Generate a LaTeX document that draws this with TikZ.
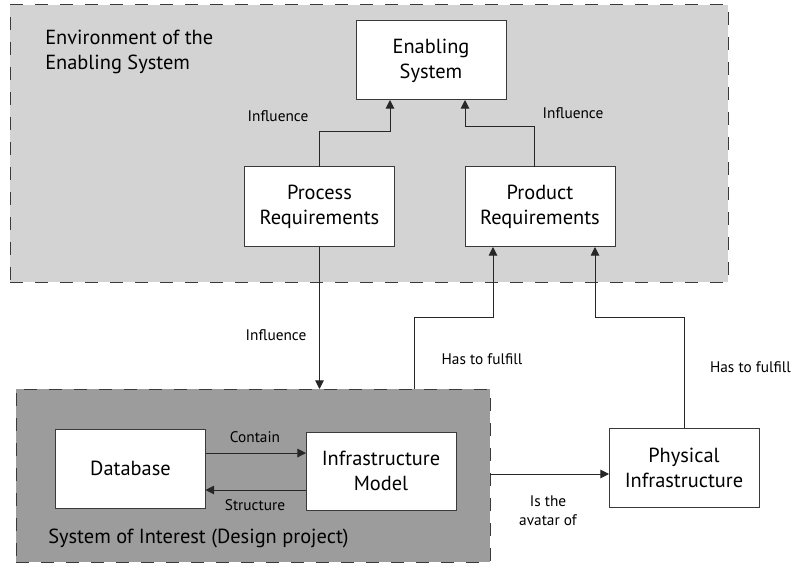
\documentclass[tikz,border=0pt]{standalone}
\usepackage{fontspec}
\setmainfont{PT Sans}
\usetikzlibrary{arrows.meta}
\definecolor{envgray}{HTML}{D3D3D3}
\definecolor{soigray}{HTML}{9C9C9C}
\definecolor{edgegray}{HTML}{3A3A3A}
\tikzset{
  container/.style={draw=edgegray, line width=0.75pt, dash pattern=on 9.75pt off 9pt, inner sep=0pt, outer sep=0pt},
  box/.style={draw=edgegray, fill=white, line width=0.75pt, inner sep=0pt, outer sep=0pt, minimum width=112.5pt, minimum height=59.25pt, align=center, font=\fontsize{15.3}{18.75}\selectfont},
  arr/.style={draw=black!85, line width=0.75pt, -{Triangle[length=6.5pt,width=6.5pt]}},
  lbl/.style={inner sep=0pt, font=\fontsize{11.5}{14.25}\selectfont, align=center},
  big/.style={inner sep=0pt, font=\fontsize{15.3}{18.75}\selectfont, align=left}
}
\begin{document}
\begin{tikzpicture}[x=0.75pt, y=-0.75pt]
\useasboundingbox (0,0) rectangle (793,563);
% containers
\node[container, fill=envgray, minimum width=538.5pt, minimum height=207.75pt] (env) at (369,143.5) {};
\node[container, fill=soigray, minimum width=355.5pt, minimum height=129.75pt] (soi) at (253,475.5) {};
\node[big, anchor=north west] (envlbl) at (45,30) {Environment of the\\Enabling System};
\node[big, anchor=west] (soilbl) at (48,538) {System of Interest (Design project)};
% boxes
\node[box] (ena) at (431,60.5) {Enabling\\System};
\node[box, minimum height=60pt] (proc) at (319.5,207) {Process\\Requirements};
\node[box, minimum height=60pt] (prod) at (540,207) {Product\\Requirements};
\node[box] (db) at (130.5,468.5) {Database};
\node[box, minimum height=58.5pt] (im) at (381,471) {Infrastructure\\Model};
\node[box] (phys) at (684,467.5) {Physical\\Infrastructure};
% connectors
\draw[arr] (proc.north) -- ++(0,-35) -| ([xshift=-30.75pt]ena.south);
\draw[arr] ([xshift=-4.5pt]prod.north) -- ++(0,-40) -| ([xshift=25.5pt]ena.south);
\draw[arr] (proc.south) -- (proc.south |- soi.north);
\draw[arr] ([xshift=120.75pt]soi.north) -- ++(0,-72) -| ([xshift=-35.25pt]prod.south);
\draw[arr] (phys.north) -- ++(0,-111) -| ([xshift=41.25pt]prod.south);
\coordinate (c1) at ([yshift=11.6pt]db.east);
\draw[arr] (c1) -- (c1 -| im.west);
\coordinate (c2) at ([yshift=-14.25pt]im.west);
\draw[arr] (c2) -- (c2 -| db.east);
\coordinate (c3) at ([yshift=-4.875pt]phys.west);
\draw[arr] (c3 -| soi.east) -- (c3);
% labels
\node[lbl] (l1) at (278,116) {Influence};
\node[lbl] (l2) at (573,113) {Influence};
\node[lbl] (l3) at (276,335) {Influence};
\node[lbl] (l4) at (482,359) {Has to fulfill};
\node[lbl, anchor=east] (l5) at (791,367) {Has to fulfill};
\node[lbl] (l6) at (255,437) {Contain};
\node[lbl] (l7) at (255,505) {Structure};
\node[lbl] (l8) at (548,510.5) {Is the\\avatar of};
\end{tikzpicture}
\end{document}
